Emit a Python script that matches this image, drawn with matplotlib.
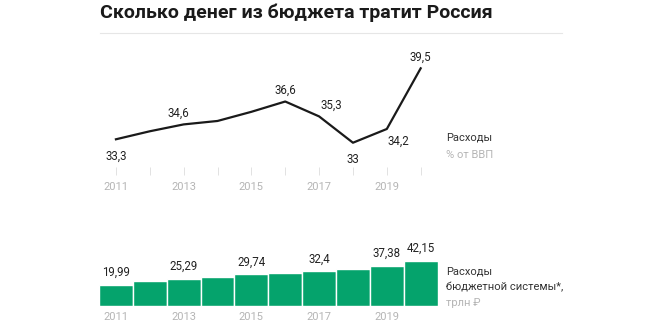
import matplotlib.pyplot as plt
import numpy as np

# data ------------------------------------------------------------
years = [2011, 2012, 2013, 2014, 2015, 2016, 2017, 2018, 2019, 2020]
gdp_share = [33.3, 34.0, 34.6, 34.9, 35.7, 36.6, 35.3, 33.0, 34.2, 39.5]
spending = [19.99, 23.17, 25.29, 27.61, 29.74, 31.32, 32.4, 34.28, 37.38, 42.15]

# which points get a value label, and where (offset in points)
line_labels = {2011: (0, -12), 2013: (-4, 8), 2016: (0, 8), 2017: (9, 8),
               2018: (0, -12), 2019: (8, -9), 2020: (0, 8)}
bar_labels = [2011, 2013, 2015, 2017, 2019, 2020]
tick_years = [2011, 2013, 2015, 2017, 2019]

GREEN = '#05a36c'
GREY = '#b5b5b5'
plt.rcParams['font.family'] = ['Roboto', 'DejaVu Sans']


def fmt(v):
    s = '{:g}'.format(v)
    return s.replace('.', ',')


fig = plt.figure(figsize=(6.5, 3.25), dpi=100)

# title and rule
fig.text(100 / 650, 1 - 13 / 325, 'Сколько денег из бюджета тратит Россия',
         fontsize=14, fontweight='bold', color='#1a1a1a', va='center', ha='left')
fig.add_artist(plt.Line2D([100 / 650, 562 / 650], [1 - 33 / 325, 1 - 33 / 325],
                          color='#e6e6e6', lw=0.8))

# top: line chart ----------------------------------------------------------
ax1 = fig.add_axes([99 / 650, 1 - 175 / 325, 338.6 / 650, 125 / 325])
ax1.plot(years, gdp_share, color='#1a1a1a', lw=1.6)
ax1.set_xlim(2010.5, 2020.5)
ax1.set_ylim(30.18, 41.1)
for y, v in zip(years, gdp_share):
    if y in line_labels:
        ax1.annotate(fmt(v), xy=(y, v), xytext=line_labels[y], textcoords='offset points',
                     ha='center', va='center', fontsize=8.3, color='#222222')
ax1.set_xticks(years)
ax1.set_xticklabels([str(y) if y in tick_years else '' for y in years])
ax1.tick_params(axis='x', direction='in', length=6, width=0.6, color='#dddddd',
                labelcolor=GREY, labelsize=8, pad=5)
ax1.set_yticks([])
for s in ax1.spines.values():
    s.set_visible(False)

fig.text(446 / 650, 1 - 137 / 325, 'Расходы', fontsize=8, color='#333333', va='center')
fig.text(446 / 650, 1 - 155 / 325, '% от ВВП', fontsize=8, color=GREY, va='center')

# bottom: bar chart --------------------------------------------------------
ax2 = fig.add_axes([99 / 650, 1 - 306 / 325, 338.6 / 650, 66 / 325])
bars = ax2.bar(years, spending, width=1.0, color=GREEN, edgecolor='white', linewidth=1)
ax2.set_xlim(2010.5, 2020.5)
ax2.set_ylim(0, 61.9)
for rect, y, v in zip(bars, years, spending):
    if y in bar_labels:
        ax2.annotate(fmt(v), xy=(rect.get_x() + rect.get_width() / 2, v),
                     xytext=(0, 9), textcoords='offset points',
                     ha='center', va='center', fontsize=8.3, color='#222222')
ax2.set_xticks(tick_years)
ax2.tick_params(axis='x', length=0, labelcolor=GREY, labelsize=8, pad=4)
ax2.set_yticks([])
for s in ax2.spines.values():
    s.set_visible(False)

fig.text(446 / 650, 1 - 272 / 325, 'Расходы', fontsize=8, color='#333333', va='center')
fig.text(446 / 650, 1 - 287 / 325, 'бюджетной системы*,', fontsize=8, color='#333333', va='center')
fig.text(446 / 650, 1 - 303 / 325, 'трлн ₽', fontsize=8, color=GREY, va='center')

plt.savefig('out.png', dpi=100)
